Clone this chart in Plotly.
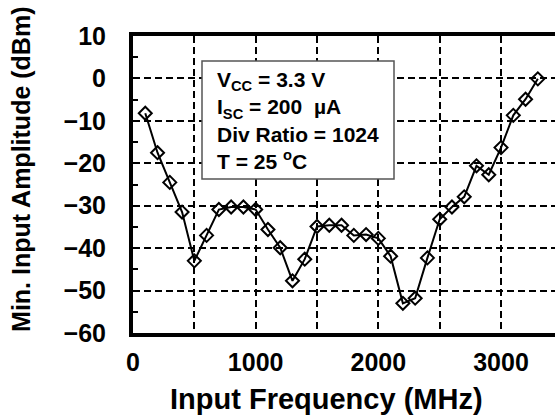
import plotly.graph_objects as go

freq_mhz = [100, 200, 300, 400, 500, 600, 700, 800, 900, 1000,
            1100, 1200, 1300, 1400, 1500, 1600, 1700, 1800, 1900, 2000,
            2100, 2200, 2300, 2400, 2500, 2600, 2700, 2800, 2900, 3000,
            3100, 3200, 3300]
min_amp_dbm = [-8.2, -17.5, -24.5, -31.5, -43.0, -37.0, -30.9, -30.3, -30.3, -30.9,
               -35.6, -39.9, -47.7, -42.6, -34.9, -34.6, -34.6, -37.0, -36.8, -37.7,
               -41.9, -53.0, -51.8, -42.3, -33.2, -30.3, -27.9, -20.6, -22.7, -16.3,
               -8.7, -4.9, -0.1]

x_ticks = [0, 1000, 2000, 3000]
y_ticks = [-60, -50, -40, -30, -20, -10, 0, 10]

FONT = "Liberation Sans, Arial, sans-serif"
DASH = "7px,4px"

fig = go.Figure()
fig.add_trace(go.Scatter(
    x=freq_mhz, y=min_amp_dbm, mode="lines+markers",
    line=dict(color="black", width=2),
    marker=dict(symbol="diamond-open", size=10, color="black",
                line=dict(color="black", width=2)),
    showlegend=False,
))

fig.update_layout(
    width=555, height=415,
    margin=dict(l=133, r=0, t=36, b=82),
    paper_bgcolor="white", plot_bgcolor="white",
    font=dict(family=FONT, color="black"),
    xaxis=dict(
        range=[0, 3440], tickvals=x_ticks,
        ticktext=[str(v) for v in x_ticks],
        tickfont=dict(size=25, family=FONT, weight="bold"),
        showline=True, linecolor="black", linewidth=4, mirror=True,
        showgrid=True, gridcolor="black", gridwidth=1.5, griddash=DASH,
        minor=dict(dtick=500, tick0=0, showgrid=True, gridcolor="black",
                   gridwidth=1.5, griddash=DASH),
        zeroline=False, ticks="", ticklabelstandoff=4,
    ),
    yaxis=dict(
        range=[-60, 10], tickvals=y_ticks,
        ticktext=[("\u2212" + str(-v)) if v < 0 else str(v) for v in y_ticks],
        tickfont=dict(size=25, family=FONT, weight="bold"),
        showline=True, linecolor="black", linewidth=4,
        showgrid=True, gridcolor="black", gridwidth=1.5, griddash=DASH,
        ticks="inside", ticklen=5, tickwidth=2, tickcolor="black",
        minor=dict(dtick=5, tick0=0, ticks="inside", ticklen=5, tickwidth=2,
                   tickcolor="black", showgrid=False),
        zeroline=False, ticklabelstandoff=18,
    ),
)

# axis titles
fig.add_annotation(
    xref="paper", yref="paper", x=0.4597, y=-0.222,
    xanchor="center", yanchor="middle", showarrow=False,
    text="Input Frequency (MHz)",
    font=dict(size=29, family=FONT, weight="bold", color="black"),
)
fig.add_annotation(
    xref="paper", yref="paper", x=-0.2654, y=0.549,
    xanchor="center", yanchor="middle", showarrow=False, textangle=-90,
    text="Min. Input Amplitude (dBm)",
    font=dict(size=25, family=FONT, weight="bold", color="black"),
)

# condition box
fig.add_shape(
    type="rect", xref="paper", yref="paper",
    x0=(202 - 133) / 422, x1=(394 - 133) / 422,
    y0=(333 - 179) / 297, y1=(333 - 61) / 297,
    fillcolor="white", line=dict(color="#555555", width=1.5), layer="above",
)
fig.add_annotation(
    xref="paper", yref="paper", x=(215 - 133) / 422, y=(333 - 120) / 297,
    xanchor="left", yanchor="middle", align="left",
    text=("V<sub>CC</sub> = 3.3 V<br>I<sub>SC</sub> = 200  \u00b5A<br>"
          "Div Ratio = 1024<br>T = 25 <sup>o</sup>C"),
    showarrow=False,
    font=dict(size=21, family=FONT, weight="bold", color="black"),
)

fig.write_html("out.html")
